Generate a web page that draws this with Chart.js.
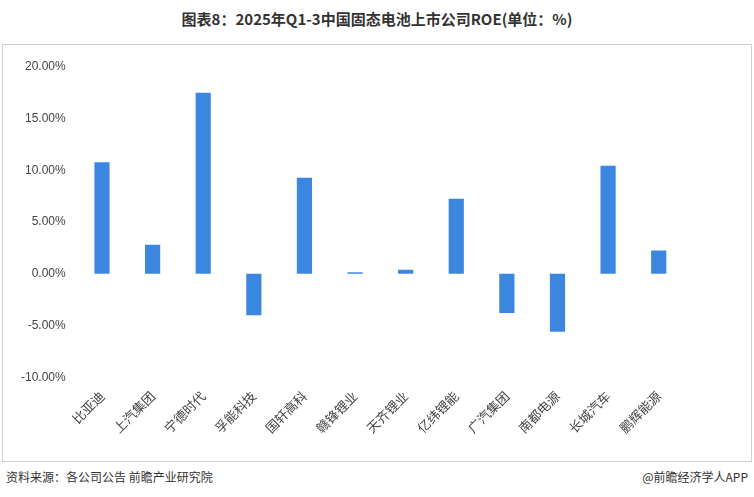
<!DOCTYPE html>
<html>
<head>
<meta charset="utf-8">
<script src="https://cdn.jsdelivr.net/npm/chart.js@4"></script>
<style>
  body { margin: 0; width: 754px; height: 497px; background: #fff; font-family: "Noto Sans CJK SC", sans-serif; position: relative; }
  .title { position: absolute; top: 8px; left: 0; width: 754px; text-align: center; font-size: 15px; font-weight: bold; color: #333; }
  .frame { position: absolute; left: 2px; top: 44px; width: 748px; height: 416px; border: 1px solid #d0d0d0; }
  .chart-block { position: absolute; left: 3px; top: 45px; width: 746px; height: 414px; }
  .src { position: absolute; left: 6px; top: 468px; font-size: 12px; color: #333; }
  .app { position: absolute; right: 6px; top: 468px; font-size: 12px; color: #333; }
</style>
</head>
<body>
<div class="title">图表8：2025年Q1-3中国固态电池上市公司ROE(单位：%)</div>
<div class="frame"></div>
<div class="chart-block"><canvas id="roeChart"></canvas></div>
<div class="src">资料来源：各公司公告 前瞻产业研究院</div>
<div class="app">@前瞻经济学人APP</div>
<script>
// companies and ROE (%)
let companies = ["比亚迪", "上汽集团", "宁德时代", "孚能科技", "国轩高科", "赣锋锂业", "天齐锂业", "亿纬锂能", "广汽集团", "南都电源", "长城汽车", "鹏辉能源"];
let roeValues = [10.8, 2.8, 17.5, -4.0, 9.3, 0.15, 0.4, 7.25, -3.8, -5.6, 10.45, 2.25];

document.addEventListener("DOMContentLoaded", function() {
    let ctx = document.getElementById("roeChart").getContext("2d");
    new Chart(ctx, {
        type: "bar",
        data: {
            labels: companies,
            datasets: [{
                data: roeValues,
                backgroundColor: "#3b87e0",
                barPercentage: 0.3,
                categoryPercentage: 1
            }]
        },
        options: {
            responsive: true,
            maintainAspectRatio: false,
            animation: false,
            layout: { padding: { left: 15, right: 65, top: 22, bottom: 20 } },
            plugins: { legend: { display: false }, tooltip: { enabled: false } },
            scales: {
                x: {
                    grid: { display: false },
                    border: { display: false },
                    ticks: { color: "#444", font: { size: 13, family: "Noto Sans CJK SC" }, minRotation: 45, maxRotation: 45 },
                    offset: true
                },
                y: {
                    min: -10, max: 20,
                    ticks: { stepSize: 5, color: "#444", font: { size: 12 }, callback: v => v.toFixed(2) + "%" },
                    grid: { display: false },
                    border: { display: false }
                }
            }
        }
    });
});
</script>
</body>
</html>
